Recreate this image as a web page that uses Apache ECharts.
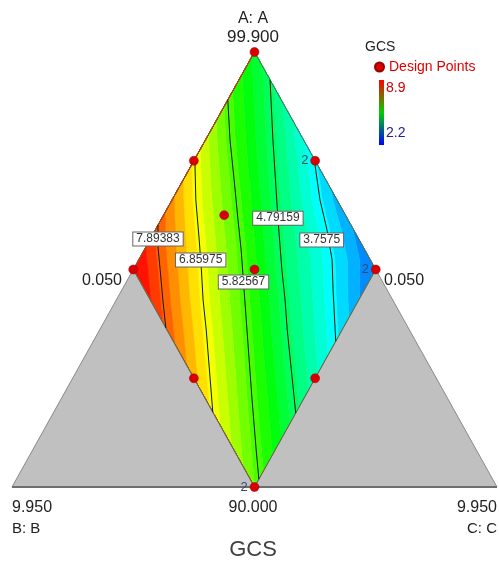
<!DOCTYPE html>
<html><head><meta charset="utf-8">
<script src="https://cdn.jsdelivr.net/npm/echarts@6/dist/echarts.min.js"></script>
<style>html,body{margin:0;padding:0;background:#fff}#main{width:499px;height:574px}</style>
</head><body><div id="main"></div>
<script>
// ================= DATA =================
const responseName = 'GCS';
const gcsMin = 2.2;
const gcsMax = 8.9;
const axisNames = ['A: A', 'B: B', 'C: C'];
const topTick = '99.900';
const bottomTick = '90.000';
const cornerTicks = ['9.950', '9.950'];
const sideTicks = ['0.050', '0.050'];

// design points, pseudo-component fractions (a + b + c = 1)
const designA = [1, 0.75, 0.75, 0.625, 0.5, 0.5, 0.5, 0.25, 0.25, 0];
const designB = [0, 0.25, 0, 0.25, 0.5, 0.25, 0, 0.5, 0.25, 0.5];
const designC = [0, 0, 0.25, 0.125, 0, 0.25, 0.5, 0.25, 0.5, 0.5];
const replicates = [1, 1, 2, 1, 1, 1, 2, 1, 1, 2];

// contour levels and their paths, as [a, c] pseudo fractions (b = 1 - a - c)
const contourLevels = [7.89383, 6.85975, 5.82567, 4.79159, 3.7575];
const contour1 = [[0.602, 0], [0.552, 0.025], [0.499, 0.056], [0.430, 0.096], [0.3655, 0.1345]];
const contour2 = [[0.754, 0], [0.660, 0.049], [0.568, 0.102], [0.499, 0.141], [0.430, 0.179], [0.361, 0.220], [0.172, 0.328]];
const contour3 = [[0.890, 0], [0.798, 0.0505], [0.706, 0.105], [0.614, 0.159], [0.545, 0.200], [0.430, 0.265], [0.361, 0.304], [0.200, 0.395], [0.085, 0.461], [0.018, 0.500]];
const contour4 = [[0.936, 0.064], [0.798, 0.139], [0.614, 0.2415], [0.499, 0.307], [0.430, 0.348], [0.361, 0.387], [0.170, 0.500]];
const contour5 = [[0.754, 0.246], [0.660, 0.305], [0.591, 0.354], [0.522, 0.399], [0.453, 0.4355], [0.335, 0.500]];

// ================= LAYOUT / STYLE =================
const FONT = "'Liberation Sans', Arial, sans-serif";
const labelRows = [0.570, 0.522, 0.471, 0.618, 0.568];
const labelOffsets = [[0, 0], [0, 0], [0, 0], [0, 0], [-7, 0]];
const bandStep = 0.25;

function toXY(a, c) { return [c + a / 2, a]; }
const contourPaths = [contour1, contour2, contour3, contour4, contour5];
const contourXY = contourPaths.map(p => p.map(([a, c]) => toXY(a, c)));

function lineXAt(pts, a) {
  const n = pts.length;
  let i = 0;
  if (a >= pts[0][1]) i = 0;
  else if (a <= pts[n - 1][1]) i = n - 2;
  else { while (i < n - 2 && !(pts[i][1] >= a && a >= pts[i + 1][1])) i++; }
  const p0 = pts[i], p1 = pts[i + 1];
  return p0[0] + (a - p0[1]) * (p1[0] - p0[0]) / (p1[1] - p0[1]);
}
function xForLevel(L, a) {
  const X = contourXY.map(p => lineXAt(p, a));
  const V = contourLevels, n = X.length;
  if (L >= V[0]) return X[0] - (L - V[0]) * (X[1] - X[0]) / (V[0] - V[1]);
  if (L <= V[n - 1]) return X[n - 1] + (V[n - 1] - L) * (X[n - 1] - X[n - 2]) / (V[n - 2] - V[n - 1]);
  for (let i = 0; i < n - 1; i++) {
    if (L <= V[i] && L >= V[i + 1]) return X[i] + (V[i] - L) * (X[i + 1] - X[i]) / (V[i] - V[i + 1]);
  }
  return 0.5;
}
function halfWidth(a) { return Math.min(a, 1 - a) / 2; }

const stops = [[0, [0, 0, 255]], [0.24, [0, 255, 255]], [0.48, [0, 255, 0]], [0.70, [255, 255, 0]], [0.93, [255, 0, 0]], [1, [255, 0, 0]]];
function colorFor(v) {
  let t = (v - gcsMin) / (gcsMax - gcsMin);
  t = Math.max(0, Math.min(1, t));
  for (let i = 0; i < stops.length - 1; i++) {
    const [t0, c0] = stops[i], [t1, c1] = stops[i + 1];
    if (t >= t0 && t <= t1) {
      const f = (t - t0) / (t1 - t0);
      const c = c0.map((x, j) => Math.round(x + (c1[j] - x) * f));
      return 'rgb(' + c.join(',') + ')';
    }
  }
  return 'rgb(255,0,0)';
}

const N = 200;
const bands = [];
for (let k = -8; k < 32; k++) {
  const lo = gcsMin + k * bandStep, hi = lo + bandStep;
  const left = [], right = [];
  let any = false;
  for (let i = 0; i <= N; i++) {
    const a = i / N, hw = halfWidth(a), xl = 0.5 - hw, xr = 0.5 + hw;
    let x1 = Math.min(Math.max(xForLevel(hi, a), xl), xr);
    let x2 = Math.min(Math.max(xForLevel(lo, a), xl), xr);
    if (x2 - x1 > 1e-6) any = true;
    left.push([x1, a]); right.push([x2, a]);
  }
  if (!any) continue;
  const col = colorFor((lo + hi) / 2);
  bands.push({ pts: left.concat(right.reverse()), color: col });
}

const grayTriangles = [
  [toXY(0, 0), toXY(0.5, 0), toXY(0, 0.5)],
  [toXY(0, 0.5), toXY(0.5, 0.5), toXY(0, 1)]
];
const diamond = [toXY(1, 0), toXY(0.5, 0), toXY(0, 0.5), toXY(0.5, 0.5)];

const chart = echarts.init(document.getElementById('main'));

const series = [];
series.push({
  type: 'custom', silent: true, z: 1, clip: false,
  data: bands.map(() => [0.5, 0.5]),
  renderItem: (params, api) => {
    const b = bands[params.dataIndex];
    return { type: 'polygon', shape: { points: b.pts.map(p => api.coord(p)) },
      style: { fill: b.color, stroke: b.color, lineWidth: 0.6 } };
  }
});
series.push({
  type: 'custom', silent: true, z: 2, clip: false,
  data: [[0.5, 0.5], [0.5, 0.5], [0.5, 0.5], [0.5, 0.5]],
  renderItem: (params, api) => {
    const i = params.dataIndex;
    if (i < 2) {
      return { type: 'polygon', shape: { points: grayTriangles[i].map(p => api.coord(p)) },
        style: { fill: '#c0c0c0', stroke: '#8a8a8a', lineWidth: 1 } };
    }
    if (i === 2) {
      return { type: 'polygon', shape: { points: diamond.map(p => api.coord(p)) },
        style: { fill: 'none', stroke: '#5f6b3a', lineWidth: 1 } };
    }
    const p0 = api.coord([0, 0]), p1 = api.coord([1, 0]);
    return { type: 'line', shape: { x1: p0[0], y1: p0[1], x2: p1[0], y2: p1[1] },
      style: { stroke: '#6e6e6e', lineWidth: 2 } };
  }
});
contourXY.forEach((pts) => {
  series.push({
    type: 'line', data: pts, showSymbol: false, silent: true, z: 3,
    lineStyle: { color: '#151515', width: 1 }
  });
});
series.push({
  type: 'scatter', silent: true, z: 5, symbolSize: 1,
  itemStyle: { color: 'rgba(0,0,0,0)', opacity: 1 },
  data: contourLevels.map((v, i) => ({
    value: [lineXAt(contourXY[i], labelRows[i]), labelRows[i]],
    label: { offset: labelOffsets[i] },
    name: String(v)
  })),
  label: {
    show: true, position: 'inside', formatter: p => p.name, opacity: 1,
    fontFamily: FONT, fontSize: 12, color: '#333',
    backgroundColor: '#ffffff', borderColor: '#666', borderWidth: 1, padding: [1, 3, 0, 3]
  }
});
series.push({
  name: 'Design Points', type: 'scatter', z: 6, symbolSize: 9,
  itemStyle: { color: '#d80000', borderColor: '#9a0000', borderWidth: 0.5, opacity: 1 },
  data: designA.map((a, i) => ({
    value: toXY(a, designC[i]),
    label: { show: replicates[i] > 1, formatter: String(replicates[i]) }
  })),
  label: { position: 'left', distance: 2, fontFamily: FONT, fontSize: 13, color: '#3a4470' }
});

function txt(text, x, y, size, color, align) {
  return { type: 'text', x: x, y: y, silent: true, z: 10,
    style: { text: text, font: size + 'px ' + FONT, fill: color, textAlign: align || 'center', textVerticalAlign: 'middle' } };
}

chart.setOption({
  animation: false,
  backgroundColor: '#ffffff',
  grid: { left: 12, top: 52, width: 485, height: 435 },
  xAxis: { type: 'value', min: 0, max: 1, show: false },
  yAxis: { type: 'value', min: 0, max: 1, show: false },
  legend: {
    data: ['Design Points'], left: 369, top: 55, icon: 'circle', itemWidth: 9, itemHeight: 9,
    textStyle: { color: '#e00000', fontSize: 14, fontFamily: FONT }, selectedMode: false
  },
  graphic: [
    txt(axisNames[0], 253, 19, 16, '#222'),
    txt(topTick, 253, 37, 17, '#222'),
    txt(sideTicks[0], 122, 281, 16, '#222', 'right'),
    txt(sideTicks[1], 384, 281, 16, '#222', 'left'),
    txt(cornerTicks[0], 12, 508, 16, '#222', 'left'),
    txt(bottomTick, 253, 508, 16, '#222'),
    txt(cornerTicks[1], 497, 508, 16, '#222', 'right'),
    txt(axisNames[1], 12, 529, 15, '#222', 'left'),
    txt(axisNames[2], 497, 529, 15, '#222', 'right'),
    txt(responseName, 253, 550, 22, '#404040'),
    txt(responseName, 365, 47, 14, '#222', 'left'),
    { type: 'rect', shape: { x: 379, y: 80, width: 5, height: 65 }, silent: true, z: 10,
      style: { fill: new echarts.graphic.LinearGradient(0, 0, 0, 1, [
        { offset: 0, color: '#ff0000' }, { offset: 0.5, color: '#00d000' }, { offset: 1, color: '#0000ff' }]) } },
    txt(String(gcsMax), 386, 88, 14, '#d00000', 'left'),
    txt(String(gcsMin), 386, 133, 14, '#2020a0', 'left')
  ],
  series: series
});
</script></body></html>
